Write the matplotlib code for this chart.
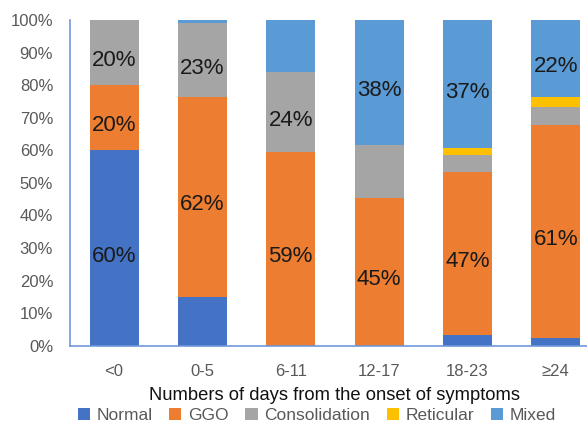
import matplotlib
matplotlib.use("Agg")
import matplotlib.pyplot as plt
import numpy as np

plt.rcParams['font.family'] = ['Liberation Sans', 'DejaVu Sans']

categories = ['<0', '0-5', '6-11', '12-17', '18-23', '≥24']
series_names = ['Normal', 'GGO', 'Consolidation', 'Reticular', 'Mixed']
normal = [60, 15, 0, 0, 3.3, 2.3]
ggo = [20, 61.5, 59.5, 45.5, 50, 65.5]
consolidation = [20, 22.5, 24.5, 16, 5.3, 5.4]
reticular = [0, 0, 0, 0, 2.1, 3.3]
mixed = [0, 1, 16, 38.5, 39.3, 23.5]
colors = ['#4472C4', '#ED7D31', '#A5A5A5', '#FFC000', '#5B9BD5']

# labels shown on the chart: (series index, category index, text)
label_series = [0, 1, 2, 1, 2, 1, 2, 1, 4, 1, 4, 1, 4]
label_cats = [0, 0, 0, 1, 1, 2, 2, 3, 3, 4, 4, 5, 5]
label_texts = ['60%', '20%', '20%', '62%', '23%', '59%', '24%', '45%', '38%', '47%', '37%', '61%', '22%']

data = np.array([normal, ggo, consolidation, reticular, mixed])

fig = plt.figure(figsize=(5.87, 4.25), dpi=100)
ax = fig.add_axes([0.119, 0.1866, 0.903, 0.766])
x = np.arange(len(categories))
bottoms = np.zeros(len(categories))
bottom_store = []
for i, name in enumerate(series_names):
    bottom_store.append(bottoms.copy())
    ax.bar(x, data[i], 0.555, bottom=bottoms, color=colors[i], label=name)
    bottoms = bottoms + data[i]

for s, c, t in zip(label_series, label_cats, label_texts):
    yc = bottom_store[s][c] + data[s][c] / 2 - 2.5
    ax.text(x[c], yc, t, ha='center', va='center', fontsize=16, color='#1a1a1a')

ax.set_xlim(-0.5, 5.5)
ax.set_ylim(0, 100)
ax.set_yticks(np.arange(0, 101, 10))
ax.set_yticklabels([f'{v}%' for v in range(0, 101, 10)])
ax.set_xticks(x)
ax.set_xticklabels(categories)
ax.tick_params(axis='both', length=0, colors='#595959', labelsize=12)
ax.tick_params(axis='x', pad=13)
ax.tick_params(axis='y', pad=12)
for sp in ['top', 'right']:
    ax.spines[sp].set_visible(False)
ax.spines['left'].set_color('#6F97DA')
ax.spines['bottom'].set_color('#6F97DA')
ax.spines['left'].set_linewidth(1.2)
ax.spines['bottom'].set_linewidth(1.2)
ax.set_xlabel('Numbers of days from the onset of symptoms', fontsize=13.2, color='#111111', labelpad=6)

handles, labels = ax.get_legend_handles_labels()
fig.legend(handles, labels, loc='lower center', bbox_to_anchor=(0.54, -0.033), ncol=5,
           frameon=False, fontsize=12.5, handlelength=0.7, handleheight=0.7,
           handletextpad=0.4, columnspacing=0.95, labelcolor='#595959')

fig.savefig('out.png', dpi=100)
